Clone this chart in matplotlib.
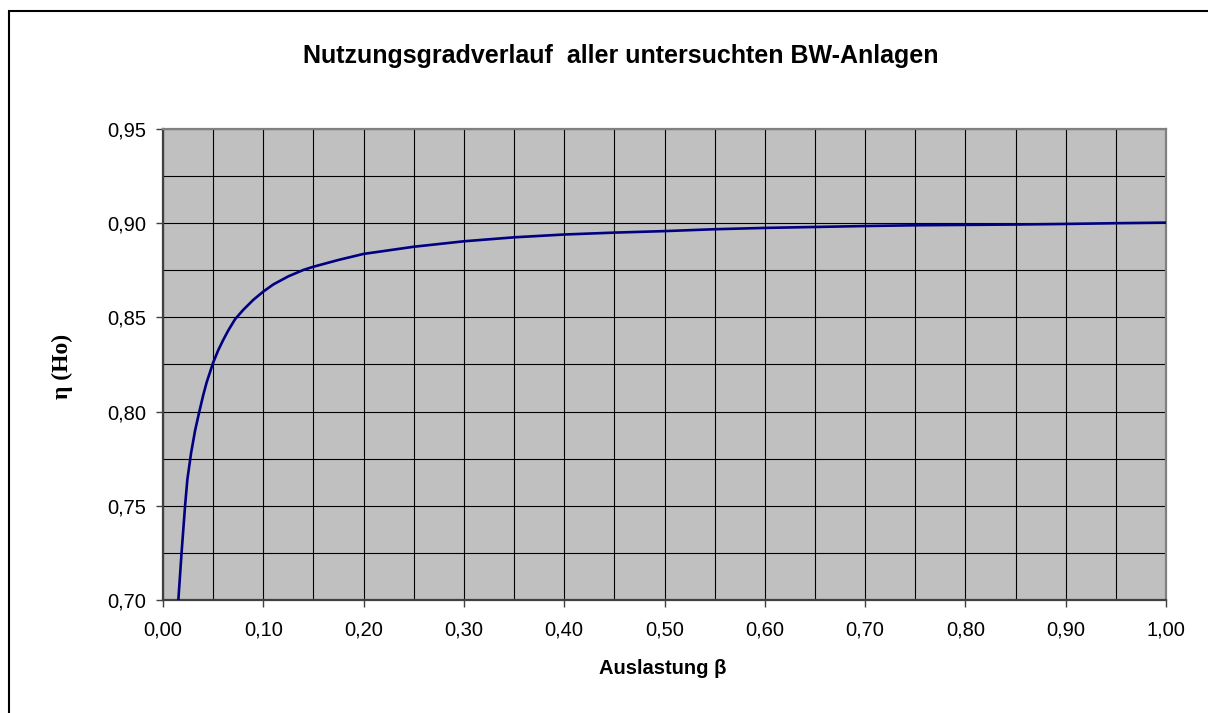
import matplotlib
matplotlib.use('Agg')
import matplotlib.pyplot as plt
from matplotlib.patches import Rectangle
from matplotlib.ticker import MultipleLocator, FuncFormatter

plt.rcParams['font.family'] = ['Liberation Sans', 'DejaVu Sans']

# Auslastung beta and Nutzungsgrad eta
beta = [0.0153, 0.0185, 0.022, 0.0243, 0.028, 0.032, 0.036, 0.040, 0.0435, 0.05,
        0.055, 0.06, 0.065, 0.0718, 0.08, 0.09, 0.10, 0.11, 0.125, 0.14,
        0.15, 0.175, 0.20, 0.25, 0.30, 0.35, 0.40, 0.45, 0.50, 0.55,
        0.60, 0.65, 0.70, 0.75, 0.80, 0.85, 0.90, 0.95, 1.00]
eta = [0.700, 0.725, 0.750, 0.764, 0.778, 0.790, 0.7995, 0.8085, 0.8155, 0.826,
       0.8325, 0.8380, 0.8430, 0.8490, 0.8540, 0.8593, 0.8637, 0.8675, 0.8718, 0.8752,
       0.8769, 0.8805, 0.8837, 0.8875, 0.8904, 0.8925, 0.8940, 0.8950, 0.8958, 0.8968,
       0.8975, 0.8980, 0.8985, 0.8989, 0.8991, 0.8993, 0.8996, 0.9000, 0.9003]

title = 'Nutzungsgradverlauf  aller untersuchten BW-Anlagen'
xlabel = 'Auslastung \u03b2'
ylabel = '\u03b7 (Ho)'

fig = plt.figure(figsize=(12.08, 7.13), dpi=100)
ax = fig.add_axes([163 / 1208, 1 - 600 / 713, 1003 / 1208, 471 / 713])
ax.set_facecolor('#c0c0c0')

# outer chart border (cut off at right and bottom)
fig.patches.append(Rectangle((8.5 / 1208, -0.2), 1.5, 1.2 - 10.5 / 713,
                             transform=fig.transFigure, fill=False,
                             edgecolor='black', lw=1.5))

ax.plot(beta, eta, color='#000080', lw=1.9, zorder=3)

ax.set_xlim(0, 1)
ax.set_ylim(0.70, 0.95)
ax.xaxis.set_major_locator(MultipleLocator(0.10))
ax.xaxis.set_minor_locator(MultipleLocator(0.05))
ax.yaxis.set_major_locator(MultipleLocator(0.05))
ax.yaxis.set_minor_locator(MultipleLocator(0.025))
fmt = FuncFormatter(lambda v, p: f'{v:.2f}'.replace('.', ','))
ax.xaxis.set_major_formatter(fmt)
ax.yaxis.set_major_formatter(fmt)

ax.grid(True, which='both', color='black', lw=0.8, zorder=1)
ax.set_axisbelow(True)
ax.tick_params(which='major', direction='out', length=5, width=1, color='#404040',
               labelsize=14.5, labelcolor='black')
ax.tick_params(axis='x', which='major', pad=10)
ax.tick_params(axis='y', which='major', pad=7)
ax.tick_params(which='minor', length=0)

for s in ['left', 'bottom']:
    ax.spines[s].set_color('#404040')
    ax.spines[s].set_linewidth(1.6)
for s in ['top', 'right']:
    ax.spines[s].set_color('#808080')
    ax.spines[s].set_linewidth(1.6)

fig.text(621 / 1208, 1 - 63 / 713, title, ha='center', va='baseline',
         fontsize=18, fontweight='bold')
fig.text(663 / 1208, 1 - 674 / 713, xlabel, ha='center', va='baseline',
         fontsize=14.5, fontweight='bold')
fig.text(62 / 1208, 1 - 366 / 713, ylabel, ha='center', va='center',
         rotation=90, fontsize=17, fontweight='bold',
         family=['Liberation Serif', 'DejaVu Serif'])

fig.savefig('out.png', dpi=100)
